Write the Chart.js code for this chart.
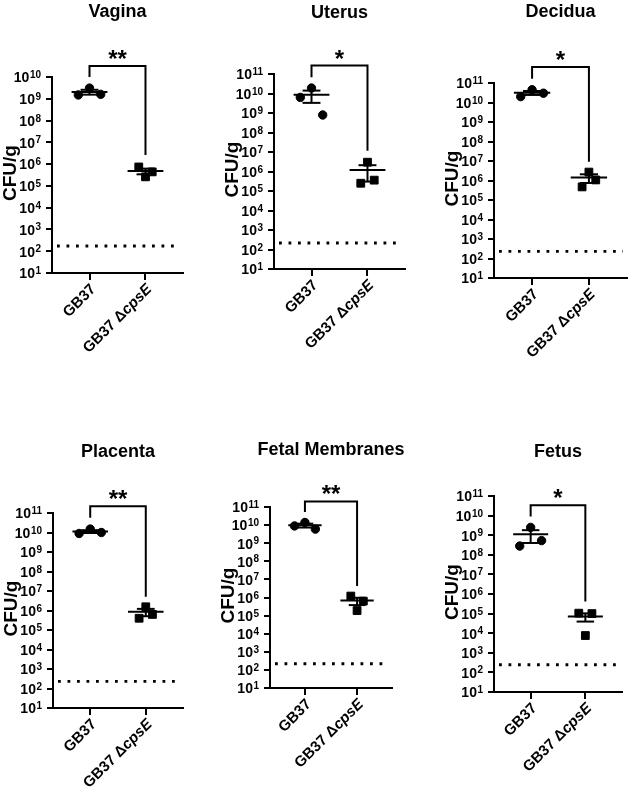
<!DOCTYPE html>
<html>
<head>
<meta charset="utf-8">
<script src="https://cdn.jsdelivr.net/npm/chart.js@4.4.1/dist/chart.umd.min.js"></script>
<style>
html, body { margin: 0; padding: 0; background: #fff; }
#wrap { position: relative; width: 630px; height: 795px; overflow: hidden; }
#wrap canvas { position: absolute; }
</style>
</head>
<body>
<div id="wrap"></div>
<script>
// data (CFU/g, 3 dams per group)
const categories = ['GB37', 'GB37 ΔcpsE'];
const tissues = ['Vagina', 'Uterus', 'Decidua', 'Placenta', 'Fetal Membranes', 'Fetus'];
const yMaxExp = [10, 11, 11, 11, 11, 11];
const gb37 = [
    [1.5e9, 3.1e9, 1.6e9],
    [6.3e9, 1.9e10, 7.9e8],
    [2.0e10, 4.5e10, 3.0e10],
    [8.9e9, 1.5e10, 1.0e10],
    [9.0e9, 1.4e10, 6.0e9],
    [2.8e8, 2.5e9, 5.3e8]
];
const cpsE = [
    [7.4e5, 2.6e5, 4.4e5],
    [2.5e5, 3.0e6, 3.6e5],
    [4.7e5, 2.7e6, 1.07e6],
    [4.0e5, 1.55e6, 6.3e5],
    [1.2e6, 1.9e5, 6.3e5],
    [1.05e5, 7.6e3, 1.0e5]
];
const detectionLimit = [174, 215, 230, 230, 218, 245];
const stars = ['**', '*', '*', '**', '**', '*'];

// layout of the 6 panels (page pixels) and the significance brackets (log10 units)
const boxes = [
    { cx: 0,   cy: 0,   h: 395, left: 52,  top: 77,  right: 183, bottom: 273, titleY: 12 },
    { cx: 210, cy: 0,   h: 395, left: 274, top: 74,  right: 405, bottom: 269, titleY: 13 },
    { cx: 420, cy: 0,   h: 395, left: 494, top: 83,  right: 627, bottom: 278, titleY: 12 },
    { cx: 0,   cy: 395, h: 400, left: 53,  top: 513, right: 183, bottom: 708, titleY: 452 },
    { cx: 210, cy: 395, h: 400, left: 270, top: 507, right: 392, bottom: 688, titleY: 450 },
    { cx: 420, cy: 395, h: 400, left: 494, top: 496, right: 622, bottom: 692, titleY: 452 }
];
const brackets = [
    { top: 10.5,  l: 10.0,  r: 6.42 },
    { top: 11.43, l: 10.83, r: 7.07 },
    { top: 11.82, l: 11.22, r: 6.96 },
    { top: 11.34, l: 10.76, r: 6.7 },
    { top: 11.31, l: 10.72, r: 6.63 },
    { top: 10.53, l: 9.95,  r: 5.62 }
];

const FONT = '"Liberation Sans", Arial, Helvetica, sans-serif';
const jitter = [-0.2, 0, 0.2];

function meanSem(arr) {
    const n = arr.length;
    const m = arr.reduce((s, v) => s + v, 0) / n;
    const sd = Math.sqrt(arr.reduce((s, v) => s + (v - m) * (v - m), 0) / (n - 1));
    return { m, s: sd / Math.sqrt(n) };
}

function line(ctx, x1, y1, x2, y2) {
    ctx.beginPath();
    ctx.moveTo(x1, y1);
    ctx.lineTo(x2, y2);
    ctx.stroke();
}

const panelPlugin = {
    id: 'panel',
    afterDatasetsDraw(chart, args, opts) {
        const { ctx, chartArea: a } = chart;
        const x = chart.scales.x, y = chart.scales.y;
        ctx.save();
        ctx.strokeStyle = '#000';

        // limit of detection
        ctx.lineWidth = 2.8;
        ctx.setLineDash([2.8, 6.7]);
        const ly = y.getPixelForValue(opts.lod);
        line(ctx, a.left + 5, ly, a.right - 4, ly);
        ctx.setLineDash([]);

        // mean and SEM
        ctx.lineWidth = 2;
        opts.groups.forEach((vals, i) => {
            const c = i + 1;
            const { m, s } = meanSem(vals);
            const px = x.getPixelForValue(c);
            const hw = x.getPixelForValue(c + 0.32) - px;
            const cw = x.getPixelForValue(c + 0.16) - px;
            const my = y.getPixelForValue(m);
            const hi = y.getPixelForValue(m + s);
            const lo = y.getPixelForValue(Math.max(m - s, 10));
            line(ctx, px - hw, my, px + hw, my);
            line(ctx, px, hi, px, lo);
            line(ctx, px - cw, hi, px + cw, hi);
            line(ctx, px - cw, lo, px + cw, lo);
        });
        ctx.restore();
    },
    afterDraw(chart, args, opts) {
        const { ctx, chartArea: a } = chart;
        const x = chart.scales.x, y = chart.scales.y;
        ctx.save();
        ctx.fillStyle = '#000';
        ctx.strokeStyle = '#000';

        // title
        ctx.font = 'bold 18px ' + FONT;
        ctx.textAlign = 'center';
        ctx.textBaseline = 'middle';
        ctx.fillText(opts.title, (a.left + a.right) / 2, opts.titleY);

        // y tick labels 10^n
        y.ticks.forEach(t => {
            const e = Math.round(Math.log10(t.value));
            const py = y.getPixelForValue(t.value);
            const rx = a.left - 11;
            ctx.font = 'bold 10px ' + FONT;
            const ew = ctx.measureText(String(e)).width;
            ctx.textAlign = 'right';
            ctx.textBaseline = 'alphabetic';
            ctx.fillText(String(e), rx, py + 1);
            ctx.font = 'bold 14px ' + FONT;
            ctx.textBaseline = 'middle';
            ctx.fillText('10', rx - ew - 0.5, py + 1.5);
        });

        // y axis title
        ctx.save();
        ctx.translate(a.left - 41, (a.top + a.bottom) / 2 - 2);
        ctx.rotate(-Math.PI / 2);
        ctx.font = 'bold 19px ' + FONT;
        ctx.textAlign = 'center';
        ctx.textBaseline = 'middle';
        ctx.fillText('CFU/g', 0, 0);
        ctx.restore();

        // x labels, rotated, italic gene name
        categories.forEach((lab, i) => {
            const px = x.getPixelForValue(i + 1);
            ctx.save();
            ctx.translate(px + 4, a.bottom + 14);
            ctx.rotate(-Math.PI / 4);
            ctx.textAlign = 'right';
            ctx.textBaseline = 'middle';
            const k = lab.indexOf('Δ');
            if (k >= 0) {
                const ital = lab.slice(k + 1);
                ctx.font = 'italic bold 15px ' + FONT;
                const w = ctx.measureText(ital).width;
                ctx.fillText(ital, 0, 0);
                ctx.font = 'bold 15px ' + FONT;
                ctx.fillText(lab.slice(0, k + 1), -w, 0);
            } else {
                ctx.font = 'bold 15px ' + FONT;
                ctx.fillText(lab, 0, 0);
            }
            ctx.restore();
        });

        // significance bracket
        const b = opts.bracket;
        const x1 = x.getPixelForValue(1), x2 = x.getPixelForValue(2);
        const yt = y.getPixelForValue(Math.pow(10, b.top));
        ctx.lineWidth = 2;
        ctx.beginPath();
        ctx.moveTo(x1, y.getPixelForValue(Math.pow(10, b.l)));
        ctx.lineTo(x1, yt);
        ctx.lineTo(x2, yt);
        ctx.lineTo(x2, y.getPixelForValue(Math.pow(10, b.r)));
        ctx.stroke();
        ctx.font = 'bold 24px ' + FONT;
        ctx.textAlign = 'center';
        ctx.textBaseline = 'alphabetic';
        ctx.fillText(opts.stars, (x1 + x2) / 2, yt + 1);
        ctx.restore();
    }
};

const wrap = document.getElementById('wrap');

tissues.forEach((name, p) => {
    const bx = boxes[p];
    const cv = document.createElement('canvas');
    cv.width = 210;
    cv.height = bx.h;
    cv.style.left = bx.cx + 'px';
    cv.style.top = bx.cy + 'px';
    wrap.appendChild(cv);

    const decades = [];
    for (let e = 1; e <= yMaxExp[p]; e++) decades.push({ value: Math.pow(10, e) });

    const axisGrid = { drawOnChartArea: false, color: '#000', lineWidth: 2 };

    new Chart(cv, {
        type: 'scatter',
        data: {
            datasets: [
                {
                    data: gb37[p].map((v, i) => ({ x: 1 + jitter[i], y: v })),
                    pointStyle: 'circle', pointRadius: 4.2,
                    backgroundColor: '#000', borderColor: '#000', clip: false
                },
                {
                    data: cpsE[p].map((v, i) => ({ x: 2 + jitter[i] * 0.6, y: v })),
                    pointStyle: 'rect', pointRadius: 5.5,
                    backgroundColor: '#000', borderColor: '#000', clip: false
                }
            ]
        },
        options: {
            responsive: false,
            animation: false,
            events: [],
            layout: {
                autoPadding: false,
                padding: {
                    left: bx.left - bx.cx - 10,
                    right: bx.cx + 210 - bx.right,
                    top: bx.top - bx.cy,
                    bottom: bx.cy + bx.h - bx.bottom - 10
                }
            },
            scales: {
                x: {
                    type: 'linear', min: 0.33, max: 2.67,
                    afterBuildTicks: s => { s.ticks = [{ value: 1 }, { value: 2 }]; },
                    afterFit: s => { s.height = 10; },
                    ticks: { display: false },
                    grid: { ...axisGrid, tickLength: 7 },
                    border: { color: '#000', width: 2 }
                },
                y: {
                    type: 'logarithmic', min: 10, max: Math.pow(10, yMaxExp[p]),
                    afterBuildTicks: s => { s.ticks = decades.slice(); },
                    afterFit: s => { s.width = 10; },
                    ticks: { display: false },
                    grid: { ...axisGrid, tickLength: 6 },
                    border: { color: '#000', width: 2 }
                }
            },
            plugins: {
                legend: { display: false },
                tooltip: { enabled: false },
                panel: {
                    title: name,
                    titleY: bx.titleY - bx.cy,
                    lod: detectionLimit[p],
                    groups: [gb37[p], cpsE[p]],
                    bracket: brackets[p],
                    stars: stars[p]
                }
            }
        },
        plugins: [panelPlugin]
    });
});
</script>
</body>
</html>
